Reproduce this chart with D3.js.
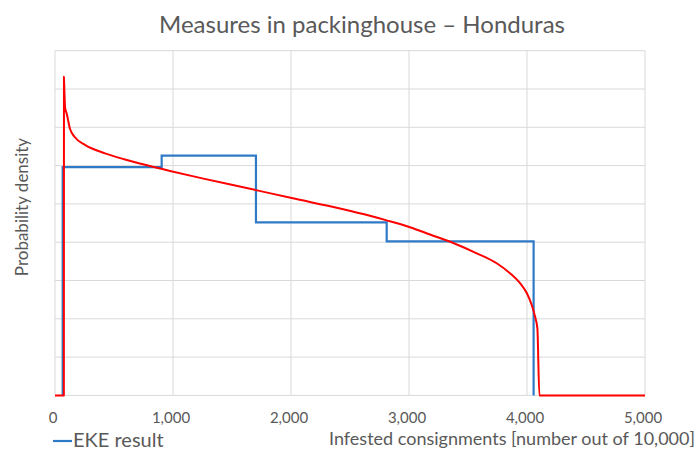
<!DOCTYPE html>
<html>
<head>
<meta charset="utf-8">
<script src="https://cdn.jsdelivr.net/npm/d3@7"></script>
<style>
  body { margin: 0; background: #fff; }
  text { font-family: Lato, "Open Sans", sans-serif; fill: #595959; }
</style>
</head>
<body>
<div id="chart"></div>
<script>
// EKE quartile histogram (bin edges, density per bin)
var eekBreaks = [65, 904, 1703, 2811, 4056];
var eekDensity = [0.000298, 0.000313, 0.000226, 0.000201];

// fitted distribution (red)
var fitX = [0, 75, 76, 80, 86, 99, 127, 169, 254, 424, 593, 763, 975, 1229, 1703, 2006, 2415, 2669, 2811, 3008, 3178, 3375, 3574, 3743, 3856, 3941, 3997, 4040, 4068, 4088, 4105, 5000];
var fitY = [0, 0, 0.000416, 0.000395, 0.000375, 0.000368, 0.000348, 0.000337, 0.000327, 0.000316, 0.000308, 0.000301, 0.000293, 0.000284, 0.000268, 0.0002576, 0.000244, 0.0002345, 0.0002285, 0.0002195, 0.00021, 0.000199, 0.0001855, 0.0001725, 0.0001595, 0.0001465, 0.000134, 0.000118, 0.000103, 0.0000875, 0, 0];

var xTicks = [0, 1000, 2000, 3000, 4000, 5000];
var yTicks = d3.range(0, 0.00045001, 0.00005);

var W = 698, H = 450;
var svg = d3.select("#chart").append("svg").attr("width", W).attr("height", H);

var x = d3.scaleLinear().domain([0, 5000]).range([55, 645]);
var y = d3.scaleLinear().domain([0, 0.00045]).range([395.4, 50.7]);

// grid
svg.append("g").selectAll("line").data(yTicks).enter().append("line")
  .attr("x1", x(0)).attr("x2", x(5000))
  .attr("y1", function (d) { return y(d); }).attr("y2", function (d) { return y(d); })
  .attr("stroke", "#d9d9d9").attr("stroke-width", 1);
svg.append("g").selectAll("line").data(xTicks).enter().append("line")
  .attr("y1", y(0)).attr("y2", y(0.00045))
  .attr("x1", function (d) { return x(d); }).attr("x2", function (d) { return x(d); })
  .attr("stroke", "#d9d9d9").attr("stroke-width", 1);

// x tick labels
svg.append("g").selectAll("text").data(xTicks).enter().append("text")
  .attr("x", function (d) { return x(d) - 2; })
  .attr("y", 422.5)
  .attr("text-anchor", "middle")
  .style("font-size", "15px")
  .text(function (d) { return d3.format(",")(d); });

// EKE steps
var steps = [[eekBreaks[0], 0]];
for (var i = 0; i < eekDensity.length; i++) steps.push([eekBreaks[i], eekDensity[i]]);
steps.push([eekBreaks[eekBreaks.length - 1], 0]);

var stepLine = d3.line()
  .x(function (d) { return x(d[0]); })
  .y(function (d) { return y(d[1]); })
  .curve(d3.curveStepAfter);

svg.append("path").datum(steps)
  .attr("d", stepLine)
  .attr("fill", "none").attr("stroke", "#2f7ac6").attr("stroke-width", 2.2);

// fitted curve
var fit = fitX.map(function (v, i) { return [v, fitY[i]]; });
svg.append("path").datum(fit)
  .attr("d", d3.line().x(function (d) { return x(d[0]); }).y(function (d) { return y(d[1]); }).curve(d3.curveMonotoneX))
  .attr("fill", "none").attr("stroke", "#ff0000").attr("stroke-width", 2)
  .attr("stroke-linejoin", "round");

// title
svg.append("text")
  .attr("x", 362).attr("y", 33)
  .attr("text-anchor", "middle")
  .style("font-size", "24px")
  .text("Measures in packinghouse \u2013 Honduras");

// axis titles
svg.append("text")
  .attr("transform", "translate(28,207) rotate(-90)")
  .attr("text-anchor", "middle")
  .style("font-size", "17px")
  .text("Probability density");

svg.append("text")
  .attr("x", 695).attr("y", 445)
  .attr("text-anchor", "end")
  .style("font-size", "18px")
  .text("Infested consignments [number out of 10,000]");

// legend
svg.append("line")
  .attr("x1", 53).attr("x2", 72).attr("y1", 441).attr("y2", 441)
  .attr("stroke", "#2f7ac6").attr("stroke-width", 2.2);
svg.append("text")
  .attr("x", 73).attr("y", 446.5)
  .style("font-size", "20px")
  .text("EKE result");
</script>
</body>
</html>
